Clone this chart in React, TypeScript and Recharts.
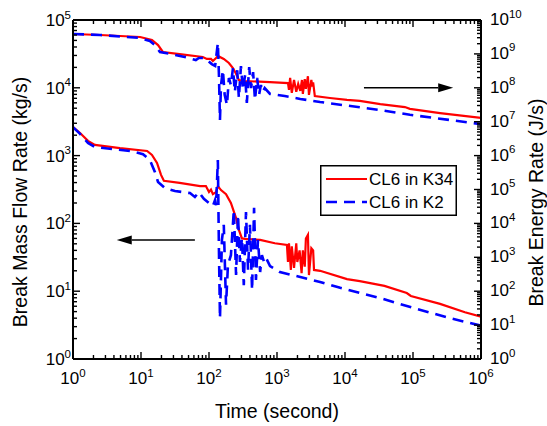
import React from 'react';
import { ComposedChart, Line, XAxis, YAxis, Legend, ReferenceLine } from 'recharts';

const FONT = '"Liberation Sans", Arial, Helvetica, sans-serif';

// [time (s), break mass flow rate (kg/s)]
const k34Mass: [number, number][] = [
  [1, 2630], [1.27, 2150], [1.66, 1650], [2.1, 1440], [4.9, 1290], [12.3, 1170], [14.5, 1020],
  [17.2, 780], [19.7, 520], [21.7, 425], [37, 395], [74, 355], [90, 355], [100, 290], [107, 315],
  [114, 270], [127, 290], [135, 355], [150, 310], [178, 270], [210, 200], [250, 120], [275, 80],
  [305, 60], [340, 59], [565, 57], [930, 51], [1400, 48],
  [1450, 27], [1500, 51], [1600, 20.6], [1650, 46], [1780, 22], [1920, 51], [1990, 27], [2150, 40],
  [2300, 18.5], [2400, 40], [2560, 23], [2660, 60], [2850, 68], [2950, 17.3], [3200, 43], [3400, 40],
  [3500, 20.6], [4300, 20], [10700, 15.1], [16500, 14.1], [38000, 12], [81000, 9.4], [93000, 8.5],
  [250000, 6.5], [580000, 4.9], [1000000, 4.2],
];

const k2Mass: [number, number][] = [
  [1, 2630], [1.27, 2090], [1.66, 1540], [2.1, 1340], [6.9, 1170], [10.7, 1050], [13.5, 860],
  [16, 575], [17.8, 408], [22.5, 332], [31.6, 300], [52.5, 280], [62, 245], [71, 290], [84, 230],
  [100, 200], [114, 180], [123, 223], [127, 185], [135, 860], [140, 40], [145, 4.0], [155, 57],
  [165, 95], [178, 6.3], [190, 24.4], [210, 34], [232, 158], [250, 17.4], [267, 133], [285, 27],
  [305, 61], [325, 12.3], [350, 147], [375, 20.6], [400, 95], [430, 10.4], [460, 170], [490, 14.7],
  [525, 57], [565, 19.2], [600, 34], [645, 27], [690, 31], [790, 23.5], [1100, 19.2], [2200, 16.2],
  [4300, 13.7], [8500, 11.2], [33000, 7.9], [106000, 5.6], [350000, 4.0], [1000000, 3.1],
];

// [time (s), break energy rate (J/s)]
const k34Energy: [number, number][] = [
  [1, 3.87e9], [2.5, 3.61e9], [9.7, 3.15e9], [14.5, 2.57e9], [17.8, 1.82e9], [21, 1.14e9],
  [37, 9.9e8], [81, 8.1e8], [93, 7.1e8], [107, 7.1e8], [114, 6.2e8], [127, 7.6e8], [135, 8.7e8],
  [165, 7.1e8], [196, 5.4e8], [225, 3.8e8], [250, 2.6e8], [275, 1.7e8], [325, 1.58e8], [790, 1.48e8],
  [1450, 1.38e8], [1500, 8.7e7], [1560, 1.95e8], [1650, 7.1e7], [1780, 1.7e8], [1920, 7.6e7],
  [2050, 1.3e8], [2200, 8.1e7], [2330, 1.7e8], [2400, 6.6e7], [2560, 1.8e8], [2660, 9.3e7],
  [2850, 2.2e8], [2950, 6.2e7], [3200, 1.7e8], [3300, 1.1e8], [3400, 1.45e8], [3600, 5.7e7],
  [6000, 5.0e7], [10700, 4.4e7], [16500, 4.1e7], [33000, 3.3e7], [76000, 2.7e7], [90000, 2.4e7],
  [250000, 1.8e7], [1000000, 1.29e7],
];

const k2Energy: [number, number][] = [
  [1, 3.87e9], [2.5, 3.61e9], [9.7, 2.95e9], [13.5, 2.4e9], [16, 1.82e9], [19, 1.14e9],
  [26.7, 1.0e9], [44, 8.1e8], [64, 6.6e8], [71, 7.6e8], [84, 7.6e8], [97, 6.2e8], [110, 5.0e8],
  [123, 4.4e8], [135, 2.1e9], [140, 2.4e8], [145, 1.12e7], [150, 1.2e8], [160, 3.3e8], [170, 6.2e7],
  [184, 3.1e7], [196, 1.95e8], [210, 1.2e8], [225, 3.8e8], [240, 7.6e7], [260, 3.3e8], [275, 5.0e7],
  [295, 4.4e8], [315, 8.7e7], [340, 2.4e8], [360, 3.6e7], [390, 4.1e8], [415, 9.8e7], [445, 2.9e8],
  [475, 4.4e7], [510, 1.95e8], [545, 6.2e7], [580, 1.2e8], [620, 7.6e7], [660, 9.8e7], [790, 6.6e7],
  [1300, 5.7e7], [2200, 4.7e7], [4300, 3.8e7], [12000, 2.9e7], [33000, 2.2e7], [90000, 1.6e7],
  [350000, 1.12e7], [1000000, 8.5e6],
];

const seriesNames = ['CL6 in K34', 'CL6 in K2'];
const seriesColors = ['#ff0000', '#0000ff'];
const seriesDash = [undefined, '11 7'];

const toRows = (pts: [number, number][]) => pts.map(([t, v]) => ({ t, v }));

const decades = (lo: number, hi: number) => {
  const out: number[] = [];
  for (let e = lo; e <= hi; e++) {
    out.push(Math.pow(10, e));
    if (e < hi) for (let k = 2; k <= 9; k++) out.push(k * Math.pow(10, e));
  }
  return out;
};

const timeTicks = decades(0, 6);
const massTicks = decades(0, 5);
const energyTicks = decades(0, 10);

const isMajor = (v: number) => Math.abs(Math.log10(v) - Math.round(Math.log10(v))) < 1e-6;
const expOf = (v: number) => Math.round(Math.log10(v));

const W = 539;
const H = 418;
const LEFT_W = 65;
const RIGHT_W = 66;
const BOTTOM_H = 67;
const TOP_H = 12;
const MAJOR = 7;
const MINOR = 4;

const PowLabel = ({ x, y, n, anchor }: { x: number; y: number; n: number; anchor: 'start' | 'middle' | 'end' }) => (
  <text x={x} y={y} textAnchor={anchor} fontSize={17} fontFamily={FONT} fill="#000">
    10<tspan dy={-7.5} fontSize={11.5}>{n}</tspan>
  </text>
);

const BottomTick = (props: any) => {
  const { x, y, payload } = props;
  const major = isMajor(payload.value);
  return (
    <g>
      <line x1={x} x2={x} y1={y} y2={y - (major ? MAJOR : MINOR)} stroke="#000" strokeWidth={1.4} />
      {major && <PowLabel x={x} y={y + 25} n={expOf(payload.value)} anchor="middle" />}
    </g>
  );
};

const TopTick = (props: any) => {
  const { x, y, payload } = props;
  const major = isMajor(payload.value);
  return <line x1={x} x2={x} y1={y} y2={y + (major ? MAJOR : MINOR)} stroke="#000" strokeWidth={1.4} />;
};

const LeftTick = (props: any) => {
  const { x, y, payload } = props;
  const major = isMajor(payload.value);
  return (
    <g>
      <line x1={x} x2={x + (major ? MAJOR : MINOR)} y1={y} y2={y} stroke="#000" strokeWidth={1.4} />
      {major && <PowLabel x={x - 2} y={y + 6} n={expOf(payload.value)} anchor="end" />}
    </g>
  );
};

const RightTick = (props: any) => {
  const { x, y, payload } = props;
  const major = isMajor(payload.value);
  return (
    <g>
      <line x1={x} x2={x - (major ? MAJOR : MINOR)} y1={y} y2={y} stroke="#000" strokeWidth={1.4} />
      {major && <PowLabel x={x + 9} y={y + 5} n={expOf(payload.value)} anchor="start" />}
    </g>
  );
};

const Arrow = (props: any) => {
  const { x1, y1, x2, y2 } = props;
  const dx = x2 - x1;
  const dy = y2 - y1;
  const len = Math.hypot(dx, dy) || 1;
  const ux = dx / len;
  const uy = dy / len;
  const hl = 15;
  const hw = 4.5;
  const bx = x2 - ux * hl;
  const by = y2 - uy * hl;
  return (
    <g>
      <line x1={x1} y1={y1} x2={bx} y2={by} stroke="#000" strokeWidth={1.5} />
      <polygon points={`${x2},${y2} ${bx - uy * hw},${by + ux * hw} ${bx + uy * hw},${by - ux * hw}`} fill="#000" />
    </g>
  );
};

const plotMidY = TOP_H + (H - TOP_H - BOTTOM_H) / 2;

const rotatedTitle = (text: string, cx: number, cy: number) => () => (
  <text x={cx} y={cy} transform={`rotate(-90, ${cx}, ${cy})`} textAnchor="middle" dominantBaseline="central"
    fontSize={19.5} fontFamily={FONT} fill="#000">
    {text}
  </text>
);

const timeTitle = () => (
  <text x={LEFT_W + (W - LEFT_W - RIGHT_W) / 2} y={H - BOTTOM_H + 59} textAnchor="middle" fontSize={19.5}
    fontFamily={FONT} fill="#000">
    Time (second)
  </text>
);

const LegendBox = () => (
  <svg width={137} height={51} style={{ display: 'block' }}>
    <rect x={0.75} y={0.75} width={135.5} height={49.5} fill="#fff" stroke="#000" strokeWidth={1.5} />
    {seriesNames.map((name, i) => (
      <g key={name}>
        <line x1={6} x2={47} y1={14 + i * 23} y2={14 + i * 23} stroke={seriesColors[i]}
          strokeWidth={i === 0 ? 2.2 : 2.6} strokeDasharray={seriesDash[i]} />
        <text x={49} y={14 + i * 23} dominantBaseline="central" fontSize={17} fontFamily={FONT} fill="#000">
          {name}
        </text>
      </g>
    ))}
  </svg>
);

const axisLine = { stroke: '#000', strokeWidth: 2 };

export default function App() {
  return (
    <div style={{ position: 'absolute', left: 8, top: 8, width: W, height: H, background: '#fff' }}>
      <ComposedChart width={W} height={H} margin={{ top: 0, right: 0, bottom: 0, left: 0 }}
        style={{ fontFamily: FONT }}>
        <XAxis xAxisId="bottom" dataKey="t" type="number" scale="log" domain={[1, 1e6]} allowDataOverflow
          ticks={timeTicks} interval={0} tick={BottomTick} tickLine={false} tickSize={0} tickMargin={0}
          axisLine={axisLine} height={BOTTOM_H} label={timeTitle} />
        <XAxis xAxisId="top" orientation="top" dataKey="t" type="number" scale="log" domain={[1, 1e6]} allowDataOverflow
          ticks={timeTicks} interval={0} tick={TopTick} tickLine={false} tickSize={0} tickMargin={0}
          axisLine={axisLine} height={TOP_H} />
        <YAxis yAxisId="left" type="number" scale="log" domain={[1, 1e5]} allowDataOverflow
          ticks={massTicks} interval={0} tick={LeftTick} tickLine={false} tickSize={0} tickMargin={0}
          axisLine={axisLine} width={LEFT_W} label={rotatedTitle('Break Mass Flow Rate (kg/s)', 12, plotMidY + 12.5)} />
        <YAxis yAxisId="right" orientation="right" type="number" scale="log" domain={[1, 1e10]} allowDataOverflow
          ticks={energyTicks} interval={0} tick={RightTick} tickLine={false} tickSize={0} tickMargin={0}
          axisLine={axisLine} width={RIGHT_W} label={rotatedTitle('Break Energy Rate (J/s)', W - 11, plotMidY + 13)} />

        <Line data={toRows(k34Energy)} xAxisId="bottom" yAxisId="right" dataKey="v" name="K34 energy"
          stroke={seriesColors[0]} strokeWidth={2.2} dot={false} activeDot={false} legendType="none"
          isAnimationActive={false} />
        <Line data={toRows(k2Energy)} xAxisId="bottom" yAxisId="right" dataKey="v" name="K2 energy"
          stroke={seriesColors[1]} strokeWidth={2.6} strokeDasharray={seriesDash[1]} dot={false} activeDot={false}
          legendType="none" isAnimationActive={false} />
        <Line data={toRows(k34Mass)} xAxisId="bottom" yAxisId="left" dataKey="v" name={seriesNames[0]}
          stroke={seriesColors[0]} strokeWidth={2.2} dot={false} activeDot={false} isAnimationActive={false} />
        <Line data={toRows(k2Mass)} xAxisId="bottom" yAxisId="left" dataKey="v" name={seriesNames[1]}
          stroke={seriesColors[1]} strokeWidth={2.6} strokeDasharray={seriesDash[1]} dot={false} activeDot={false}
          isAnimationActive={false} />

        <ReferenceLine xAxisId="bottom" yAxisId="left" segment={[{ x: 62, y: 57 }, { x: 4.4, y: 57 }]} shape={Arrow} />
        <ReferenceLine xAxisId="bottom" yAxisId="right" segment={[{ x: 1.9e4, y: 1e8 }, { x: 3.9e5, y: 1e8 }]} shape={Arrow} />

        <Legend layout="vertical" align="center" verticalAlign="middle" content={LegendBox}
          wrapperStyle={{ left: 312, top: 157, width: 137, height: 51 }} />
      </ComposedChart>
    </div>
  );
}
